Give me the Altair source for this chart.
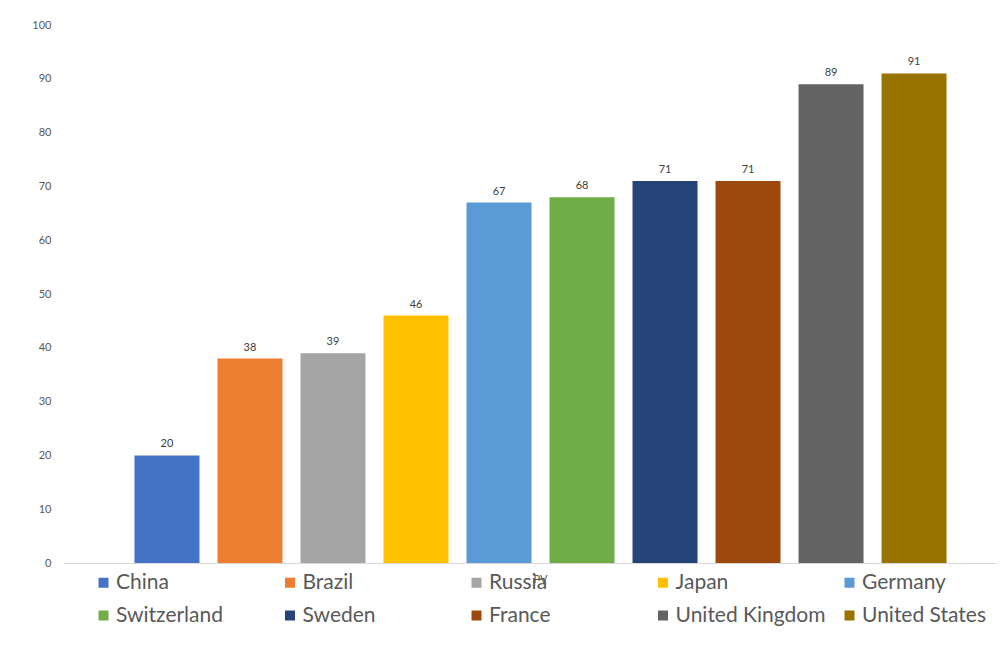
import altair as alt
import pandas as pd

# -----------------------------
# DATA
# -----------------------------
countries = ["China", "Brazil", "Russia", "Japan", "Germany",
             "Switzerland", "Sweden", "France", "United Kingdom", "United States"]
values = [20, 38, 39, 46, 67, 68, 71, 71, 89, 91]
colors = ["#4472C4", "#ED7D31", "#A5A5A5", "#FFC000", "#5B9BD5",
          "#70AD47", "#264478", "#9E480E", "#636363", "#997300"]
group = "PV"
y_ticks = list(range(0, 101, 10))

df = pd.DataFrame({"Group": [group] * len(countries), "Country": countries, "Value": values})

FONT = "Lato"
GREY = "#595959"

# -----------------------------
# CLUSTERED BARS (ONE CATEGORY)
# -----------------------------
base = alt.Chart(df).encode(
    x=alt.X("Group:N", title=None,
            scale=alt.Scale(paddingInner=0, paddingOuter=0.062, align=0.607),
            axis=alt.Axis(domainColor="#d9d9d9", ticks=False, labelAngle=0,
                          labelColor=GREY, labelFontSize=11, labelPadding=10,
                          labelFont=FONT)),
    xOffset=alt.XOffset("Country:N", sort=countries,
                        scale=alt.Scale(paddingInner=0.217, paddingOuter=0.1085)),
    y=alt.Y("Value:Q", title=None,
            scale=alt.Scale(domain=[0, 100], nice=False),
            axis=alt.Axis(values=y_ticks, domain=False, ticks=False, grid=False,
                          labelColor=GREY, labelFontSize=11, labelPadding=12,
                          labelFont=FONT)),
)

bars = base.mark_bar().encode(
    color=alt.Color("Country:N", sort=countries,
                    scale=alt.Scale(domain=countries, range=colors),
                    legend=alt.Legend(title=None, orient="none", legendX=30, legendY=547,
                                      direction="horizontal", columns=5, gridAlign="all",
                                      columnPadding=13.5, rowPadding=11, symbolType="square",
                                      symbolSize=100, symbolStrokeWidth=0, labelOffset=2,
                                      labelFontSize=21, labelColor=GREY, labelFont=FONT,
                                      labelLimit=300, padding=0))
)

labels = base.mark_text(baseline="bottom", dy=-6, fontSize=11, color="#404040",
                        font=FONT).encode(text="Value:Q")

chart = (
    alt.layer(bars, labels)
    .properties(width=933, height=538,
                autosize=alt.AutoSizeParams(type="none"),
                padding={"left": 55, "top": 17, "right": 2, "bottom": 77})
    .configure_view(stroke=None)
)

chart.save("out.html", embed_options={"renderer": "svg", "actions": False})
